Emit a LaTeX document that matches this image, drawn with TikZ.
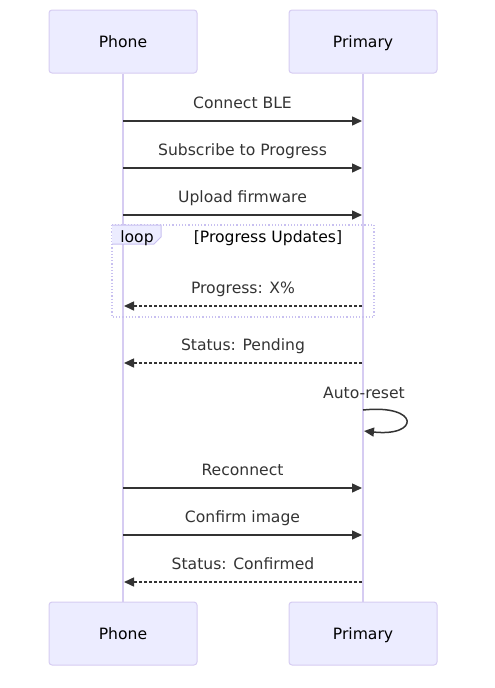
\documentclass[tikz,border=0pt]{standalone}
\usepackage{fontspec}
\setmainfont{DejaVu Sans}
\usetikzlibrary{arrows.meta}
\definecolor{actfill}{HTML}{ECECFF}
\definecolor{actborder}{HTML}{D6CCF2}
\definecolor{lifeline}{HTML}{D6CCF2}
\definecolor{msgtext}{HTML}{333333}
\definecolor{loopborder}{HTML}{C8C0F0}
\tikzset{
  actor/.style={draw=actborder, fill=actfill, rounded corners=3pt, minimum width=148pt, minimum height=63pt, font=\fontsize{15.6}{18}\selectfont, text=black, line width=1pt, text height=13.5pt, text depth=1.5pt},
  life/.style={draw=lifeline, line width=1.2pt},
  msg/.style={draw=msgtext, line width=1.5pt, -{Triangle[length=10pt,width=9pt]}},
  reply/.style={msg, dash pattern=on 3pt off 2pt},
  lbl/.style={font=\fontsize{15.6}{18}\selectfont, text=msgtext, inner sep=0pt, anchor=base, yshift=12.5pt},
  plain/.style={font=\fontsize{15.6}{18}\selectfont, text=black, inner sep=0pt, anchor=base},
}
\begin{document}
\begin{tikzpicture}[x=1pt,y=-1pt]
\useasboundingbox (0,0) rectangle (495,688);
% actors
\node[actor] (p1) at (123,41.5) {Phone};
\node[actor] (s1) at (363,41.5) {Primary};
\node[actor] (p2) at (123,633.5) {Phone};
\node[actor] (s2) at (363,633.5) {Primary};
\draw[life] (p1.south) -- (p2.north);
\draw[life] (s1.south) -- (s2.north);
% coordinates
\foreach \n/\y in {1/121,2/168,3/215,4/306,5/363,6/488,7/535,8/582}{
  \coordinate (pa\n) at (123,\y);
  \coordinate (sa\n) at (362,\y);
}
\coordinate (pb4) at (124,306);
\coordinate (pb5) at (124,363);
\coordinate (pb8) at (124,582);
\draw[msg] (pa1) -- node[lbl] {Connect BLE} (sa1);
\draw[msg] (pa2) -- node[lbl] {Subscribe to Progress} (sa2);
\draw[msg] (pa3) -- node[lbl] {Upload firmware} (sa3);
% loop box
\draw[draw=loopborder, line width=1.2pt, dotted] (112,225) rectangle (374,317);
\fill[actfill] (112,225) -- (161,225) -- (161,237) -- (154,244) -- (112,244) -- cycle;
\draw[loopborder, line width=1pt] (112,225) -- (161,225) -- (161,237) -- (154,244) -- (112,244);
\node[plain] (looplbl) at (137,242.5) {loop};
\node[plain] (loopcond) at (268,242.5) {[Progress Updates]};
\draw[reply] (sa4) -- node[lbl] {Progress: X\%} (pb4);
\draw[reply] (sa5) -- node[lbl] {Status: Pending} (pb5);
% self message
\node[lbl, yshift=-12.5pt, text=msgtext] (auto) at (364,398.5) {Auto-reset};
\coordinate (self1) at (363,410);
\coordinate (self2) at (364,431);
\draw[msg] (self1) .. controls (420,404) and (420,437) .. (self2);
\draw[msg] (pa6) -- node[lbl] {Reconnect} (sa6);
\draw[msg] (pa7) -- node[lbl] {Confirm image} (sa7);
\draw[reply] (sa8) -- node[lbl] {Status: Confirmed} (pb8);
\end{tikzpicture}
\end{document}
